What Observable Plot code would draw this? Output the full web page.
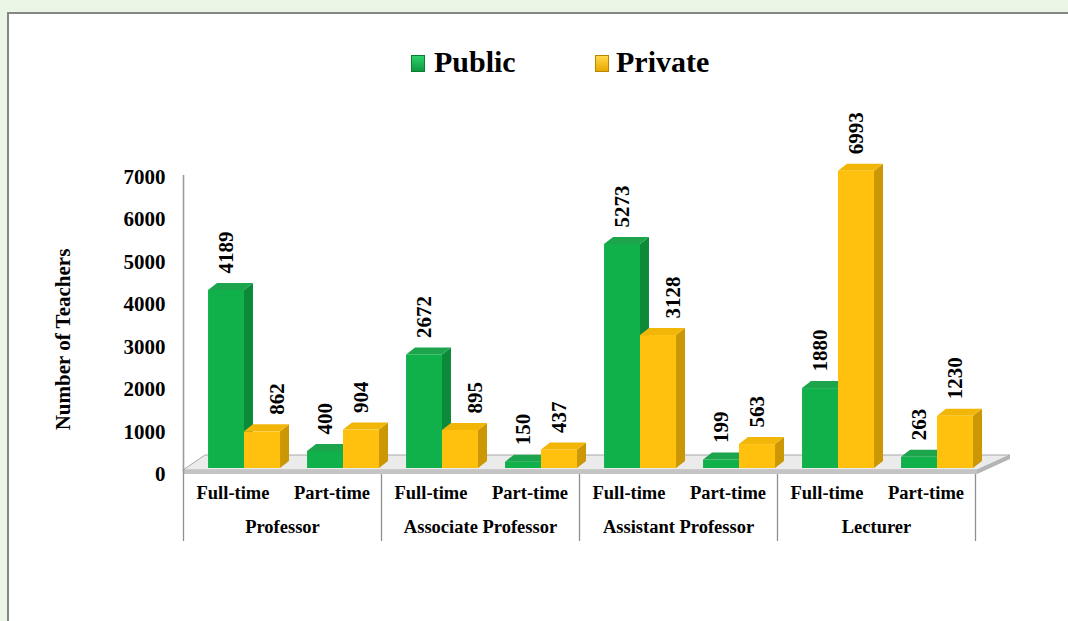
<!DOCTYPE html>
<html>
<head>
<meta charset="utf-8">
<script src="https://cdn.jsdelivr.net/npm/d3@7"></script>
<script src="https://cdn.jsdelivr.net/npm/@observablehq/plot@0.6"></script>
<style>
  html, body { margin: 0; padding: 0; width: 1068px; height: 621px; overflow: hidden; background: #eaf5e5; }
  body { position: relative; font-family: "Liberation Serif", "Times New Roman", serif; }
  #panel { position: absolute; left: 7px; top: 12px; width: 1100px; height: 650px; background: #fff; border: 2px solid #868686; box-sizing: border-box; }
  .sw { position: absolute; width: 14px; height: 17px; box-sizing: border-box; }
  .lt { position: absolute; font: bold 30px "Liberation Serif", "Times New Roman", serif; line-height: 30px; color: #000; white-space: nowrap; }
  #chart { position: absolute; left: 0; top: 90px; }
</style>
</head>
<body>
<div id="panel"></div>
<div class="sw" style="left:411px;top:55px;background:linear-gradient(#2ed06a,#0d9a40);border:1px solid #0b7a33;"></div>
<div class="lt" style="left:434px;top:47px;">Public</div>
<div class="sw" style="left:595px;top:55px;background:linear-gradient(#ffd84a,#e9a800);border:1px solid #b98600;"></div>
<div class="lt" style="left:616px;top:47px;">Private</div>
<div id="chart"></div>
<script>
// ---- data ----
const categories = ["Professor", "Associate Professor", "Assistant Professor", "Lecturer"];
const employment = ["Full-time", "Part-time"];
const series = ["Public", "Private"];
const publicValues = [4189, 400, 2672, 150, 5273, 199, 1880, 263];
const privateValues = [862, 904, 895, 437, 3128, 563, 6993, 1230];
const yTicks = [0, 1000, 2000, 3000, 4000, 5000, 6000, 7000];
const yTitle = "Number of Teachers";

// ---- layout helpers (page pixels -> scale units) ----
const SVG_TOP = 90, BASE = 468, PX_PER_1000 = 42.5;
const PXU = 1000 / PX_PER_1000;
const yAt = p => (BASE - p) * PXU;
const X0 = 183, SUB = 99;
const xAt = p => (p - X0) / SUB;

const colors = {
  Public: {front: "#10b04a", top: "#1ca54c", side: "#0c8a3a"},
  Private: {front: "#ffc10d", top: "#f2b609", side: "#cc9705"}
};

const bars = [];
publicValues.forEach((v, i) => bars.push({id: "pu" + i, series: "Public", i, value: v, x1: i + 0.253, x2: i + 0.616, shift: false}));
privateValues.forEach((v, i) => bars.push({id: "pr" + i, series: "Private", i, value: v, x1: i + 0.616, x2: i + 0.98, shift: publicValues[i] > v}));

const DX = 9 / SUB, DY = 7 * PXU;
const sideRows = bars.flatMap(b => [
  {id: b.id, series: b.series, x: b.x2, y1: 0, y2: b.value},
  {id: b.id, series: b.series, x: b.x2 + DX, y1: DY, y2: b.value + DY}
]);
const topRows = bars.flatMap(b => [
  {id: b.id, series: b.series, x: b.x1, y1: b.value, y2: b.value},
  {id: b.id, series: b.series, x: b.x1 + DX, y1: b.value, y2: b.value + DY},
  {id: b.id, series: b.series, x: b.x2, y1: b.value, y2: b.value + DY},
  {id: b.id, series: b.series, x: b.x2 + DX, y1: b.value + DY, y2: b.value + DY}
]);

// floor geometry
const F = yAt(470), B = yAt(455), S = yAt(474), SB = yAt(459);
const fl = xAt(183), bl = xAt(205), fr = xAt(977), br = xAt(1010);
const floorRows = [
  {x: fl, y1: F, y2: F}, {x: bl, y1: F, y2: B}, {x: fr, y1: F, y2: B}, {x: br, y1: B, y2: B}
];
const slabSide = [{x: fr, y1: S, y2: F}, {x: br, y1: SB, y2: B}];

const subRows = [];
categories.forEach((c, ci) => employment.forEach((e, ei) => subRows.push({label: e, x: ci * 2 + ei + 0.5})));
const catRows = categories.map((c, ci) => ({label: c, x: ci * 2 + 1}));

const barMarks = series.flatMap(s => [
  Plot.areaY(sideRows.filter(d => d.series === s), {x: "x", y1: "y1", y2: "y2", z: "id", fill: colors[s].side}),
  Plot.areaY(topRows.filter(d => d.series === s), {x: "x", y1: "y1", y2: "y2", z: "id", fill: colors[s].top}),
  Plot.rectY(bars.filter(d => d.series === s), {x1: "x1", x2: "x2", y1: 0, y2: "value", fill: colors[s].front})
]);

const font = "'Liberation Serif', 'Times New Roman', serif";
const frameMid = SVG_TOP + (BASE - SVG_TOP) - 7 * PX_PER_1000 / 2;

const chart = Plot.plot({
  width: 1068,
  height: 531,
  marginLeft: X0,
  marginRight: 1068 - (X0 + 8 * SUB),
  marginTop: BASE - SVG_TOP - 7 * PX_PER_1000,
  marginBottom: 531 - (BASE - SVG_TOP),
  x: {domain: [0, 8], axis: null},
  y: {domain: [0, 7000], axis: null},
  style: {background: "transparent", fontFamily: font, overflow: "visible", color: "#000"},
  marks: [
    Plot.areaY(floorRows, {x: "x", y1: "y1", y2: "y2", fill: "#ebebeb", stroke: "#a9a9a9", strokeWidth: 1}),
    Plot.rectY([0], {x1: fl, x2: fr, y1: S, y2: F, fill: "#c4c4c4"}),
    Plot.areaY(slabSide, {x: "x", y1: "y1", y2: "y2", fill: "#b4b4b4"}),
    Plot.ruleX([0], {y1: yAt(474), y2: yAt(175), stroke: "#9c9c9c", strokeWidth: 1.6}),
    Plot.ruleX([0, 2, 4, 6, 8], {y1: yAt(474), y2: yAt(541), stroke: "#8f8f8f", strokeWidth: 1.3}),
    Plot.axisY({ticks: yTicks, tickSize: 0, tickPadding: 18, tickFormat: d3.format("d"), label: null, fontSize: 21, fontWeight: "bold", dy: 6}),
    Plot.text([yTitle], {frameAnchor: "left", textAnchor: "middle", dx: 63 - X0, dy: 339 - frameMid, rotate: -90, fontSize: 21, fontWeight: "bold", fill: "#000"}),
    ...barMarks,
    Plot.text(bars, {
      x: d => (d.x1 + d.x2) / 2 + (d.shift ? 15 / SUB : 0),
      y: "value",
      text: d => String(d.value),
      rotate: -90, textAnchor: "start", dy: -17,
      fontSize: 21, fontWeight: "bold", fill: "#000"
    }),
    Plot.text(subRows, {x: "x", text: "label", frameAnchor: "bottom", dy: 30, fontSize: 18.5, fontWeight: "bold", fill: "#000"}),
    Plot.text(catRows, {x: "x", text: "label", frameAnchor: "bottom", dy: 64, fontSize: 18.5, fontWeight: "bold", fill: "#000"})
  ]
});
document.getElementById("chart").append(chart);
</script>
</body>
</html>
